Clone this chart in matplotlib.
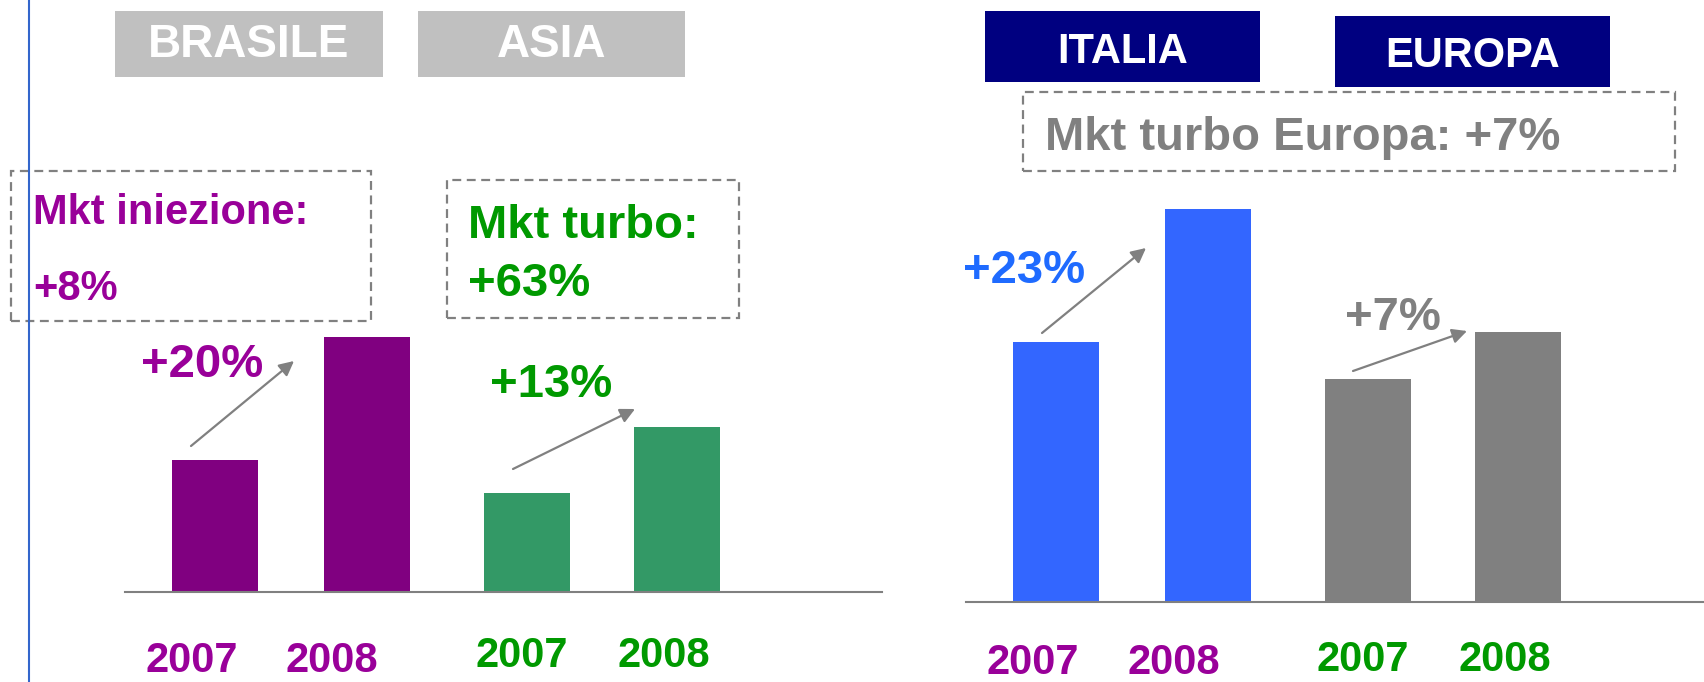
import matplotlib.pyplot as plt
from matplotlib.patches import Rectangle, FancyArrowPatch

# bar heights (relative units)
years = ['2007', '2008']
brasile = [132, 255]
asia = [99, 165]
italia = [260, 393]
europa = [223, 270]

growth = ['+20%', '+13%', '+23%', '+7%']
region_names = ['BRASILE', 'ASIA', 'ITALIA', 'EUROPA']
mkt_notes = ['Mkt iniezione:', '+8%', 'Mkt turbo:', '+63%', 'Mkt turbo Europa: +7%']

W, H = 1704, 682
PURPLE_BAR = '#800080'
PURPLE_TXT = '#990099'
GREEN_BAR = '#339966'
GREEN_TXT = '#009900'
BLUE_BAR = '#3366FF'
BLUE_TXT = '#1F6BFF'
GRAY = '#808080'
NAVY = '#000080'
LIGHT = '#C0C0C0'

plt.rcParams['font.family'] = ['Liberation Sans', 'DejaVu Sans']
plt.rcParams['font.weight'] = 'bold'

fig = plt.figure(figsize=(W / 100, H / 100), dpi=100)


def fx(x):
    return x / W


def fy(y):
    return 1 - y / H


def box(x0, y0, x1, y1, **kw):
    r = Rectangle((fx(x0), fy(y1)), fx(x1) - fx(x0), fy(y0) - fy(y1),
                  transform=fig.transFigure, **kw)
    fig.add_artist(r)


def label(x, y, s, color, size, ha='left', va='baseline'):
    fig.text(fx(x), fy(y), s, color=color, fontsize=size, fontweight='bold',
             ha=ha, va=va)


def arrow(x0, y0, x1, y1):
    fig.add_artist(FancyArrowPatch(
        (fx(x0), fy(y0)), (fx(x1), fy(y1)), transform=fig.transFigure,
        arrowstyle='-|>', mutation_scale=22, color=GRAY, lw=1.6,
        shrinkA=0, shrinkB=0))


pos = [0, 1, 2.05, 3.04]
bw = 0.566


def bar_axes(rect, xmax, ymax, left_vals, right_vals, c1, c2):
    ax = fig.add_axes(rect)
    ax.bar(pos[:2], left_vals, width=bw, color=c1)
    ax.bar(pos[2:], right_vals, width=bw, color=c2)
    ax.set_xlim(-0.592, xmax)
    ax.set_ylim(0, ymax)
    for s in ['top', 'left', 'right']:
        ax.spines[s].set_visible(False)
    ax.spines['bottom'].set_color(GRAY)
    ax.spines['bottom'].set_linewidth(1.5)
    ax.set_xticks([])
    ax.set_yticks([])
    ax.patch.set_alpha(0)
    return ax


# left panel: Brasile / Asia
bar_axes([fx(125), fy(592), fx(882) - fx(125), 592 / H], 4.388, 592,
         brasile, asia, PURPLE_BAR, GREEN_BAR)
# right panel: Italia / Europa
bar_axes([fx(966), fy(602), fx(1704) - fx(966), 602 / H], 4.263, 602,
         italia, europa, BLUE_BAR, GRAY)

# thin blue rule at the far left
fig.add_artist(plt.Line2D([fx(29), fx(29)], [0, 1], transform=fig.transFigure,
                          color='#3366CC', lw=1.5))

# region header boxes
box(115, 11, 383, 77, facecolor=LIGHT, edgecolor='none')
box(418, 11, 685, 77, facecolor=LIGHT, edgecolor='none')
box(985, 11, 1260, 82, facecolor=NAVY, edgecolor='none')
box(1335, 16, 1610, 87, facecolor=NAVY, edgecolor='none')
label(249, 57, region_names[0], 'white', 33, ha='center')
label(552, 57, region_names[1], 'white', 33, ha='center')
label(1123, 63, region_names[2], 'white', 30, ha='center')
label(1473, 67, region_names[3], 'white', 30, ha='center')

# dashed market boxes
dash = dict(facecolor='none', edgecolor=GRAY, lw=1.6, ls=(0, (4, 2.5)))
box(11, 171, 371, 321, **dash)
box(447, 180, 739, 318, **dash)
box(1023, 92, 1675, 171, **dash)
label(33, 224, mkt_notes[0], PURPLE_TXT, 30)
label(33, 300, mkt_notes[1], PURPLE_TXT, 30)
label(468, 238, mkt_notes[2], GREEN_TXT, 34)
label(468, 296, mkt_notes[3], GREEN_TXT, 34)
label(1045, 150, mkt_notes[4], GRAY, 34)

# growth labels and arrows
label(141, 377, growth[0], PURPLE_TXT, 34)
label(490, 397, growth[1], GREEN_TXT, 34)
label(963, 283, growth[2], BLUE_TXT, 34)
label(1345, 330, growth[3], GRAY, 34)
arrow(191, 446, 294, 361)
arrow(513, 469, 635, 409)
arrow(1042, 333, 1146, 248)
arrow(1353, 371, 1467, 331)

# year labels
label(192, 672, years[0], PURPLE_TXT, 30, ha='center')
label(332, 672, years[1], PURPLE_TXT, 30, ha='center')
label(522, 667, years[0], GREEN_TXT, 30, ha='center')
label(664, 667, years[1], GREEN_TXT, 30, ha='center')
label(1033, 674, years[0], PURPLE_TXT, 30, ha='center')
label(1174, 674, years[1], PURPLE_TXT, 30, ha='center')
label(1363, 671, years[0], GREEN_TXT, 30, ha='center')
label(1505, 671, years[1], GREEN_TXT, 30, ha='center')

fig.savefig('out.png', dpi=100)
